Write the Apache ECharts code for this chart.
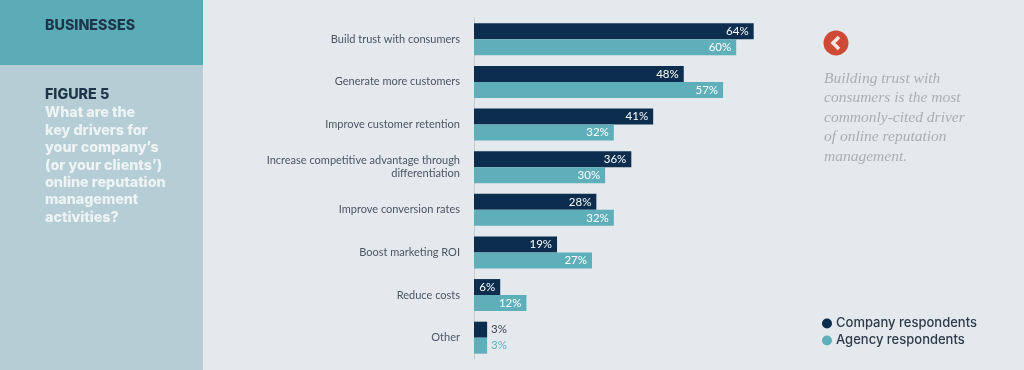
<!DOCTYPE html>
<html>
<head>
<meta charset="utf-8">
<style>
  html, body { margin: 0; padding: 0; background: #e4e9ed; }
  #chart { width: 1024px; height: 370px; }
</style>
<script src="https://cdn.jsdelivr.net/npm/echarts@6/dist/echarts.min.js"></script>
</head>
<body>
<div id="chart"></div>
<script>
const categories = [
  'Build trust with consumers',
  'Generate more customers',
  'Improve customer retention',
  'Increase competitive advantage through\ndifferentiation',
  'Improve conversion rates',
  'Boost marketing ROI',
  'Reduce costs',
  'Other'
];
const companyValues = [64, 48, 41, 36, 28, 19, 6, 3];
const agencyValues = [60, 57, 32, 30, 32, 27, 12, 3];
const seriesNames = ['Company respondents', 'Agency respondents'];
const questionLines = ['What are the', 'key drivers for', 'your company\u2019s', '(or your clients\u2019)', 'online reputation', 'management', 'activities?'];
const noteLines = ['Building trust with', 'consumers is the most', 'commonly-cited driver', 'of online reputation', 'management.'];

const DARK = '#0c2d4e';
const TEAL = '#5fafba';

// small bars can't hold their label, so it sits outside in the bar colour
function barData(values, color) {
  return values.map(v => v < 5
    ? { value: v, label: { position: 'right', distance: 4, color: color === DARK ? '#3a4654' : color } }
    : v);
}

function textLines(lines, x, y, step, style) {
  return lines.map((line, i) => ({
    type: 'text', x, y: y + i * step,
    style: Object.assign({ text: line, textVerticalAlign: 'middle' }, style)
  }));
}

const headFont = '800 14.3px "Inter", "Open Sans", sans-serif';
const noteFont = 'italic 15.5px "Liberation Serif", serif';

const chart = echarts.init(document.getElementById('chart'));
chart.setOption({
  animation: false,
  backgroundColor: '#e4e9ed',
  grid: { left: 474, top: 18, width: 437, height: 341 },
  xAxis: { type: 'value', min: 0, max: 100, show: false },
  yAxis: {
    type: 'category',
    inverse: true,
    data: categories,
    axisLine: { lineStyle: { color: '#c3cbd1', width: 1 } },
    axisTick: { show: false },
    axisLabel: {
      margin: 14,
      color: '#4a5564',
      fontFamily: 'Lato',
      fontSize: 11,
      lineHeight: 13
    }
  },
  legend: {
    orient: 'vertical',
    left: 817,
    top: 312,
    itemWidth: 10,
    itemHeight: 10,
    itemGap: 4,
    icon: 'circle',
    data: seriesNames,
    textStyle: { color: '#2b3a4a', fontFamily: 'Inter', fontWeight: 500, fontSize: 13, padding: [0, 0, 0, -1] }
  },
  series: [
    {
      name: seriesNames[0],
      type: 'bar',
      barWidth: 16,
      barGap: '0%',
      itemStyle: { color: DARK },
      label: { show: true, position: 'insideRight', distance: 5, color: '#ffffff', fontFamily: 'Lato', fontSize: 11.5, formatter: '{c}%' },
      data: barData(companyValues, DARK)
    },
    {
      name: seriesNames[1],
      type: 'bar',
      barWidth: 16,
      itemStyle: { color: TEAL },
      label: { show: true, position: 'insideRight', distance: 5, color: '#ffffff', fontFamily: 'Lato', fontSize: 11.5, formatter: '{c}%' },
      data: barData(agencyValues, TEAL)
    }
  ],
  graphic: [
    // left panels
    { type: 'rect', shape: { x: 0, y: 0, width: 203, height: 65 }, style: { fill: '#5cacb8' }, z: -1 },
    { type: 'rect', shape: { x: 0, y: 65, width: 203, height: 305 }, style: { fill: '#b5cdd4' }, z: -1 },
    { type: 'text', x: 45, y: 26, style: { text: 'BUSINESSES', font: headFont, fill: '#1c3549', textVerticalAlign: 'middle' } },
    { type: 'text', x: 45, y: 95, style: { text: 'FIGURE 5', font: headFont, fill: '#1c3549', textVerticalAlign: 'middle' } },
    ...textLines(questionLines, 45, 113, 17.4, { font: headFont, fill: '#eef3f5' }),
    // callout
    { type: 'circle', shape: { cx: 836, cy: 43, r: 12.5 }, style: { fill: '#cf4a36' } },
    { type: 'polyline', shape: { points: [[839, 37], [833, 43], [839, 49]] }, style: { stroke: '#f6e6e0', lineWidth: 3.5, fill: null } },
    ...textLines(noteLines, 824, 79, 19.4, { font: noteFont, fill: '#a9aeb2' })
  ]
});
</script>
</body>
</html>
